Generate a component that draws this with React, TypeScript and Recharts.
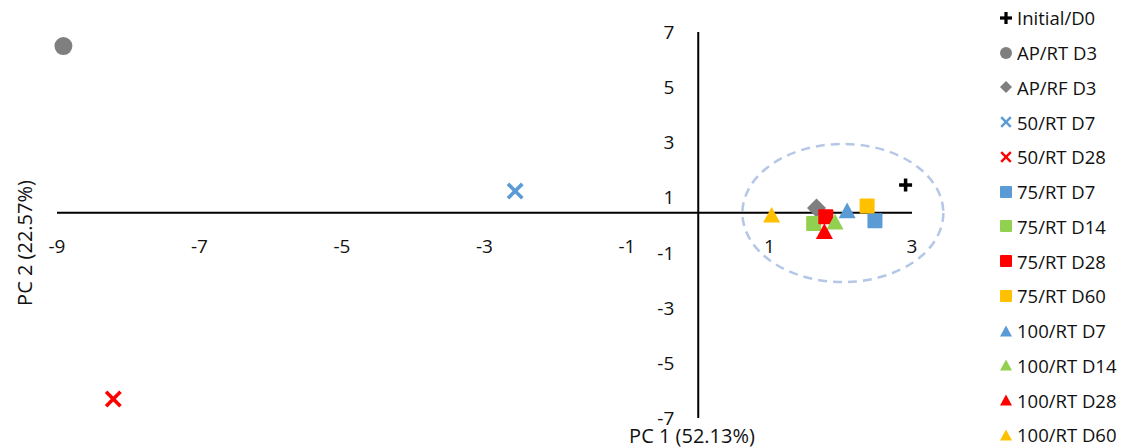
import React from 'react';
import { ScatterChart, Scatter, XAxis, YAxis, ReferenceLine, ReferenceArea } from 'recharts';

// PCA scores
const seriesNames = [
  'Initial/D0',
  'AP/RT D3',
  'AP/RF D3',
  '50/RT D7',
  '50/RT D28',
  '75/RT D7',
  '75/RT D14',
  '75/RT D28',
  '75/RT D60',
  '100/RT D7',
  '100/RT D14',
  '100/RT D28',
  '100/RT D60',
];
const pc1Scores = [2.91, -8.91, 1.66, -2.57, -8.21, 2.48, 1.62, 1.79, 2.37, 2.09, 1.92, 1.77, 1.03];
const pc2Scores = [1.45, 6.49, 0.62, 1.23, -6.31, 0.15, 0.05, 0.3, 0.69, 0.53, 0.12, -0.22, 0.37];

const xTickValues = [-9, -7, -5, -3, -1, 1, 3];
const yTickValues = [7, 5, 3, 1, -1, -3, -5, -7];
// the horizontal axis crosses a bit above zero in the original
const xAxisCrossing = 0.44;
// dashed ellipse around the cluster (data units)
const clusterX = [0.62, 3.44];
const clusterY = [-2.07, 2.94];

const FONT = '"Open Sans", sans-serif';

type Kind = 'plus' | 'circle' | 'diamond' | 'x' | 'square' | 'triangle';

const markerStyles: { kind: Kind; color: string }[] = [
  { kind: 'plus', color: '#000000' },
  { kind: 'circle', color: '#7F7F7F' },
  { kind: 'diamond', color: '#7F7F7F' },
  { kind: 'x', color: '#5B9BD5' },
  { kind: 'x', color: '#FF0000' },
  { kind: 'square', color: '#5B9BD5' },
  { kind: 'square', color: '#92D050' },
  { kind: 'square', color: '#FF0000' },
  { kind: 'square', color: '#FFC000' },
  { kind: 'triangle', color: '#5B9BD5' },
  { kind: 'triangle', color: '#92D050' },
  { kind: 'triangle', color: '#FF0000' },
  { kind: 'triangle', color: '#FFC000' },
];

const plotSize: Record<Kind, number> = {
  plus: 13,
  circle: 18,
  diamond: 19,
  x: 18,
  square: 15,
  triangle: 17,
};

function markerShape(kind: Kind, color: string, cx: number, cy: number, size: number) {
  const h = size / 2;
  switch (kind) {
    case 'plus': {
      const t = size * 0.27;
      return (
        <g fill={color}>
          <rect x={cx - h} y={cy - t / 2} width={size} height={t} />
          <rect x={cx - t / 2} y={cy - h} width={t} height={size} />
        </g>
      );
    }
    case 'circle':
      return <circle cx={cx} cy={cy} r={h} fill={color} />;
    case 'diamond':
      return (
        <polygon
          points={`${cx},${cy - h} ${cx + h},${cy} ${cx},${cy + h} ${cx - h},${cy}`}
          fill={color}
        />
      );
    case 'x': {
      const w = size * 0.2;
      const a = h - w / 2;
      return (
        <g stroke={color} strokeWidth={w}>
          <line x1={cx - a} y1={cy - a} x2={cx + a} y2={cy + a} />
          <line x1={cx - a} y1={cy + a} x2={cx + a} y2={cy - a} />
        </g>
      );
    }
    case 'square':
      return <rect x={cx - h} y={cy - h} width={size} height={size} fill={color} rx={1} />;
    case 'triangle': {
      const th = size * 0.92;
      return (
        <polygon
          points={`${cx},${cy - th / 2} ${cx + h},${cy + th / 2} ${cx - h},${cy + th / 2}`}
          fill={color}
        />
      );
    }
  }
  return null;
}

function ClusterEllipse(props: any) {
  const { x, y, width, height } = props;
  return (
    <ellipse
      cx={x + width / 2}
      cy={y + height / 2}
      rx={Math.abs(width) / 2}
      ry={Math.abs(height) / 2}
      fill="none"
      stroke="#B4C7E7"
      strokeWidth={2.5}
      strokeDasharray="9 6"
    />
  );
}

const xTickPoints = xTickValues.map((v) => ({ x: v, y: xAxisCrossing, label: v }));
const yTickPoints = yTickValues.map((v) => ({ x: 0, y: v, label: v }));

function ChartLegend() {
  return (
    <div style={{ position: 'absolute', left: 996, top: 0.6, fontFamily: FONT, fontSize: 18.5 }}>
      {seriesNames.map((name, i) => (
        <div key={name} style={{ height: 34.75, display: 'flex', alignItems: 'center' }}>
          <svg width={20} height={20} style={{ marginRight: 1 }}>
            {markerShape(markerStyles[i].kind, markerStyles[i].color, 10, 10, 12)}
          </svg>
          <span style={{ color: '#111', whiteSpace: 'nowrap' }}>{name}</span>
        </div>
      ))}
    </div>
  );
}

const titleStyle: React.CSSProperties = {
  position: 'absolute',
  fontFamily: FONT,
  fontSize: 20,
  lineHeight: 1,
  color: '#111',
  whiteSpace: 'nowrap',
};

export default function App() {
  return (
    <div style={{ position: 'absolute', left: 0, top: 0, width: 1121, height: 448, background: '#fff' }}>
      <ScatterChart width={1121} height={448} margin={{ top: 32, right: 209, bottom: 30, left: 57 }}>
        <XAxis type="number" dataKey="x" domain={[-9, 3]} hide />
        <YAxis type="number" dataKey="y" domain={[-7, 7]} hide />
        <ReferenceArea
          x1={clusterX[0]}
          x2={clusterX[1]}
          y1={clusterY[0]}
          y2={clusterY[1]}
          ifOverflow="visible"
          shape={<ClusterEllipse />}
        />
        <ReferenceLine y={xAxisCrossing} stroke="#000" strokeWidth={2} />
        <ReferenceLine x={0} stroke="#000" strokeWidth={2} />
        <Scatter
          data={xTickPoints}
          isAnimationActive={false}
          shape={(p: any) => (
            <text
              x={p.cx}
              y={p.cy + 33}
              textAnchor="middle"
              dominantBaseline="central"
              fontFamily={FONT}
              fontSize={19}
              fill="#111"
            >
              {p.payload.label}
            </text>
          )}
        />
        <Scatter
          data={yTickPoints}
          isAnimationActive={false}
          shape={(p: any) => (
            <text
              x={p.cx - 24}
              y={p.cy}
              textAnchor="end"
              dominantBaseline="central"
              fontFamily={FONT}
              fontSize={19}
              fill="#111"
            >
              {p.payload.label}
            </text>
          )}
        />
        {seriesNames.map((name, i) => (
          <Scatter
            key={name}
            name={name}
            data={[{ x: pc1Scores[i], y: pc2Scores[i] }]}
            isAnimationActive={false}
            shape={(p: any) =>
              markerShape(markerStyles[i].kind, markerStyles[i].color, p.cx, p.cy, plotSize[markerStyles[i].kind])
            }
          />
        ))}
      </ScatterChart>
      <ChartLegend />
      <div style={{ ...titleStyle, left: 692, top: 436, transform: 'translate(-50%, -50%)' }}>
        PC 1 (52.13%)
      </div>
      <div style={{ ...titleStyle, left: 25, top: 243, transform: 'translate(-50%, -50%) rotate(-90deg)' }}>
        PC 2 (22.57%)
      </div>
    </div>
  );
}
